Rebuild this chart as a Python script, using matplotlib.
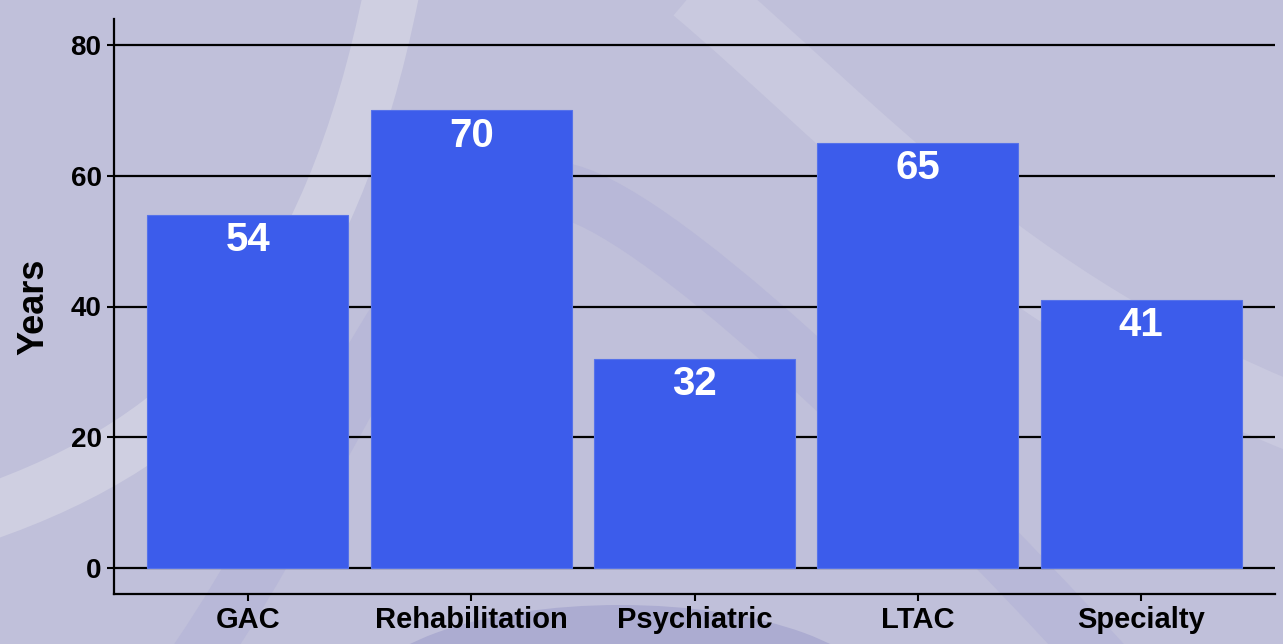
import matplotlib
matplotlib.use("Agg")
import matplotlib.pyplot as plt
from matplotlib.path import Path
from matplotlib.patches import PathPatch, Ellipse

# chart data
categories = ["GAC", "Rehabilitation", "Psychiatric", "LTAC", "Specialty"]
years = [54, 70, 32, 65, 41]
y_ticks = [0, 20, 40, 60, 80]

BG = "#c0c0da"
BAR = "#3c5ceb"

plt.rcParams["font.family"] = ["Liberation Sans", "DejaVu Sans"]
plt.rcParams["font.weight"] = "bold"

fig = plt.figure(figsize=(12.83, 6.44), dpi=100, facecolor=BG)

# background swooshes, drawn in pixel space on an axes behind the chart
bg = fig.add_axes([0, 0, 1, 1], zorder=-5)
bg.set_xlim(0, 1283)
bg.set_ylim(644, 0)
bg.axis("off")
bg.set_facecolor(BG)

M, C = Path.MOVETO, Path.CURVE4
bg.add_patch(Ellipse((620, 700), 520, 190, color="#acacd1", lw=0))
# dark arch
arch = Path([(190, 670), (330, 470), (430, 170), (560, 190),
             (650, 204), (900, 440), (1110, 670)],
            [M, C, C, C, C, C, C])
bg.add_patch(PathPatch(arch, fill=False, edgecolor="#b8b8d8", lw=40,
                       capstyle="butt"))
# light swoosh on the left
left = Path([(-20, 515), (200, 440), (330, 300), (392, -10)], [M, C, C, C])
bg.add_patch(PathPatch(left, fill=False, edgecolor="#cfcfe1", lw=40,
                       capstyle="butt"))
# light swoosh on the right
right = Path([(695, -10), (850, 120), (1000, 300), (1300, 420)], [M, C, C, C])
bg.add_patch(PathPatch(right, fill=False, edgecolor="#c9c9df", lw=48,
                       capstyle="butt"))

ax = fig.add_axes([114 / 1283, 1 - 594 / 644, (1275 - 114) / 1283, (594 - 19) / 644])
ax.set_facecolor("none")

x = range(len(categories))
bars = ax.bar(x, years, width=0.9, color=BAR, edgecolor="#5672ea",
              linewidth=0.8, zorder=3)

for b, v in zip(bars, years):
    ax.annotate(str(v), (b.get_x() + b.get_width() / 2, v),
                xytext=(0, -4.5), textcoords="offset points",
                ha="center", va="top", color="white",
                fontsize=29, fontweight="bold", zorder=4)

ax.set_xlim(-0.6, 4.6)
ax.set_ylim(-4, 84)
ax.set_yticks(y_ticks)
ax.set_xticks(list(x))
ax.set_xticklabels(categories)
ax.yaxis.grid(True, color="black", lw=1.6, zorder=1)
ax.set_axisbelow(True)

for s in ["top", "right"]:
    ax.spines[s].set_visible(False)
for s in ["left", "bottom"]:
    ax.spines[s].set_linewidth(1.6)

ax.tick_params(axis="y", length=5, width=1.5, pad=4, labelsize=20)
ax.tick_params(axis="x", length=5, width=1.5, pad=4, labelsize=21)
for lab in ax.get_xticklabels() + ax.get_yticklabels():
    lab.set_fontweight("bold")

ax.set_ylabel("Years", fontsize=26, fontweight="bold", labelpad=14)

fig.savefig("out.png", dpi=100, facecolor=BG)
